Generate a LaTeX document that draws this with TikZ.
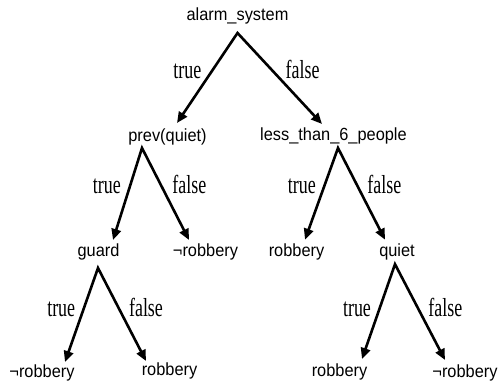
\documentclass[tikz,border=0pt]{standalone}
\usepackage{fontspec}
\setmainfont{Liberation Serif}
\setsansfont[FakeStretch=0.93]{Liberation Sans}
\newfontfamily\condfont[FakeStretch=0.69]{Liberation Serif}
\usetikzlibrary{arrows.meta,positioning}
\begin{document}
\begin{tikzpicture}[
  x=1pt, y=-1pt,
  test/.style={anchor=base, inner sep=0pt, font=\sffamily\fontsize{17.6}{20}\selectfont},
  tl/.style={inner sep=0pt, anchor=base east, xshift=-4.5pt, font=\condfont\fontsize{26}{28}\selectfont},
  fl/.style={inner sep=0pt, anchor=base west, xshift=4.8pt, font=\condfont\fontsize{26}{28}\selectfont},
  branch/.style={{Triangle[length=11pt,width=9.5pt]}-{Triangle[length=11pt,width=9.5pt]}, line width=2.6pt, line join=miter}
]
\useasboundingbox (0,0) rectangle (499,385);
% tests
\node[test] (alarm) at (237.5,21) {alarm\_system};
\node[test] (prev) at (167.5,141.5) {prev(quiet)};
\node[test] (less) at (333.5,141) {less\_than\_6\_people};
\node[test] (guard) at (98.5,257) {guard};
\node[test] (quiet) at (397,256.7) {quiet};
% leaves
\node[test] (nrob1) at (205.5,257) {¬robbery};
\node[test] (rob1) at (296.5,256.7) {robbery};
\node[test] (nrob2) at (42,377.5) {¬robbery};
\node[test] (rob2) at (169.5,376) {robbery};
\node[test] (rob3) at (339.5,376.5) {robbery};
\node[test] (nrob3) at (465,378) {¬robbery};
% branches
\draw[branch] ([xshift=9.5pt,yshift=18.5pt]prev.base) -- node[tl, pos=0.497] {true}
  ([yshift=-12pt]alarm.base) -- node[fl, pos=0.498] {false} ([xshift=-11.5pt,yshift=17pt]less.base);
\draw[branch] ([xshift=14.5pt,yshift=17pt]guard.base) -- node[tl, pos=0.505, xshift=-1pt] {true}
  ([xshift=-25.5pt,yshift=-6.5pt]prev.base) -- node[fl, pos=0.495, xshift=1pt] {false} ([xshift=-16.5pt,yshift=17pt]nrob1.base);
\draw[branch] ([xshift=8.5pt,yshift=17pt]rob1.base) -- node[tl, pos=0.505] {true}
  ([xshift=4.5pt,yshift=-7pt]less.base) -- node[fl, pos=0.495] {false} ([xshift=-12pt,yshift=17pt]quiet.base);
\draw[branch] ([xshift=23pt,yshift=15.5pt]nrob2.base) -- node[tl, pos=0.484] {true}
  ([xshift=-0.5pt,yshift=-11pt]guard.base) -- node[fl, pos=0.52] {false} ([xshift=-23.5pt,yshift=15pt]rob2.base);
\draw[branch] ([xshift=22.5pt,yshift=17.5pt]rob3.base) -- node[tl, pos=0.447] {true}
  ([xshift=-2pt,yshift=-7.5pt]quiet.base) -- node[fl, pos=0.547] {false} ([xshift=-20pt,yshift=18pt]nrob3.base);
\end{tikzpicture}
\end{document}
